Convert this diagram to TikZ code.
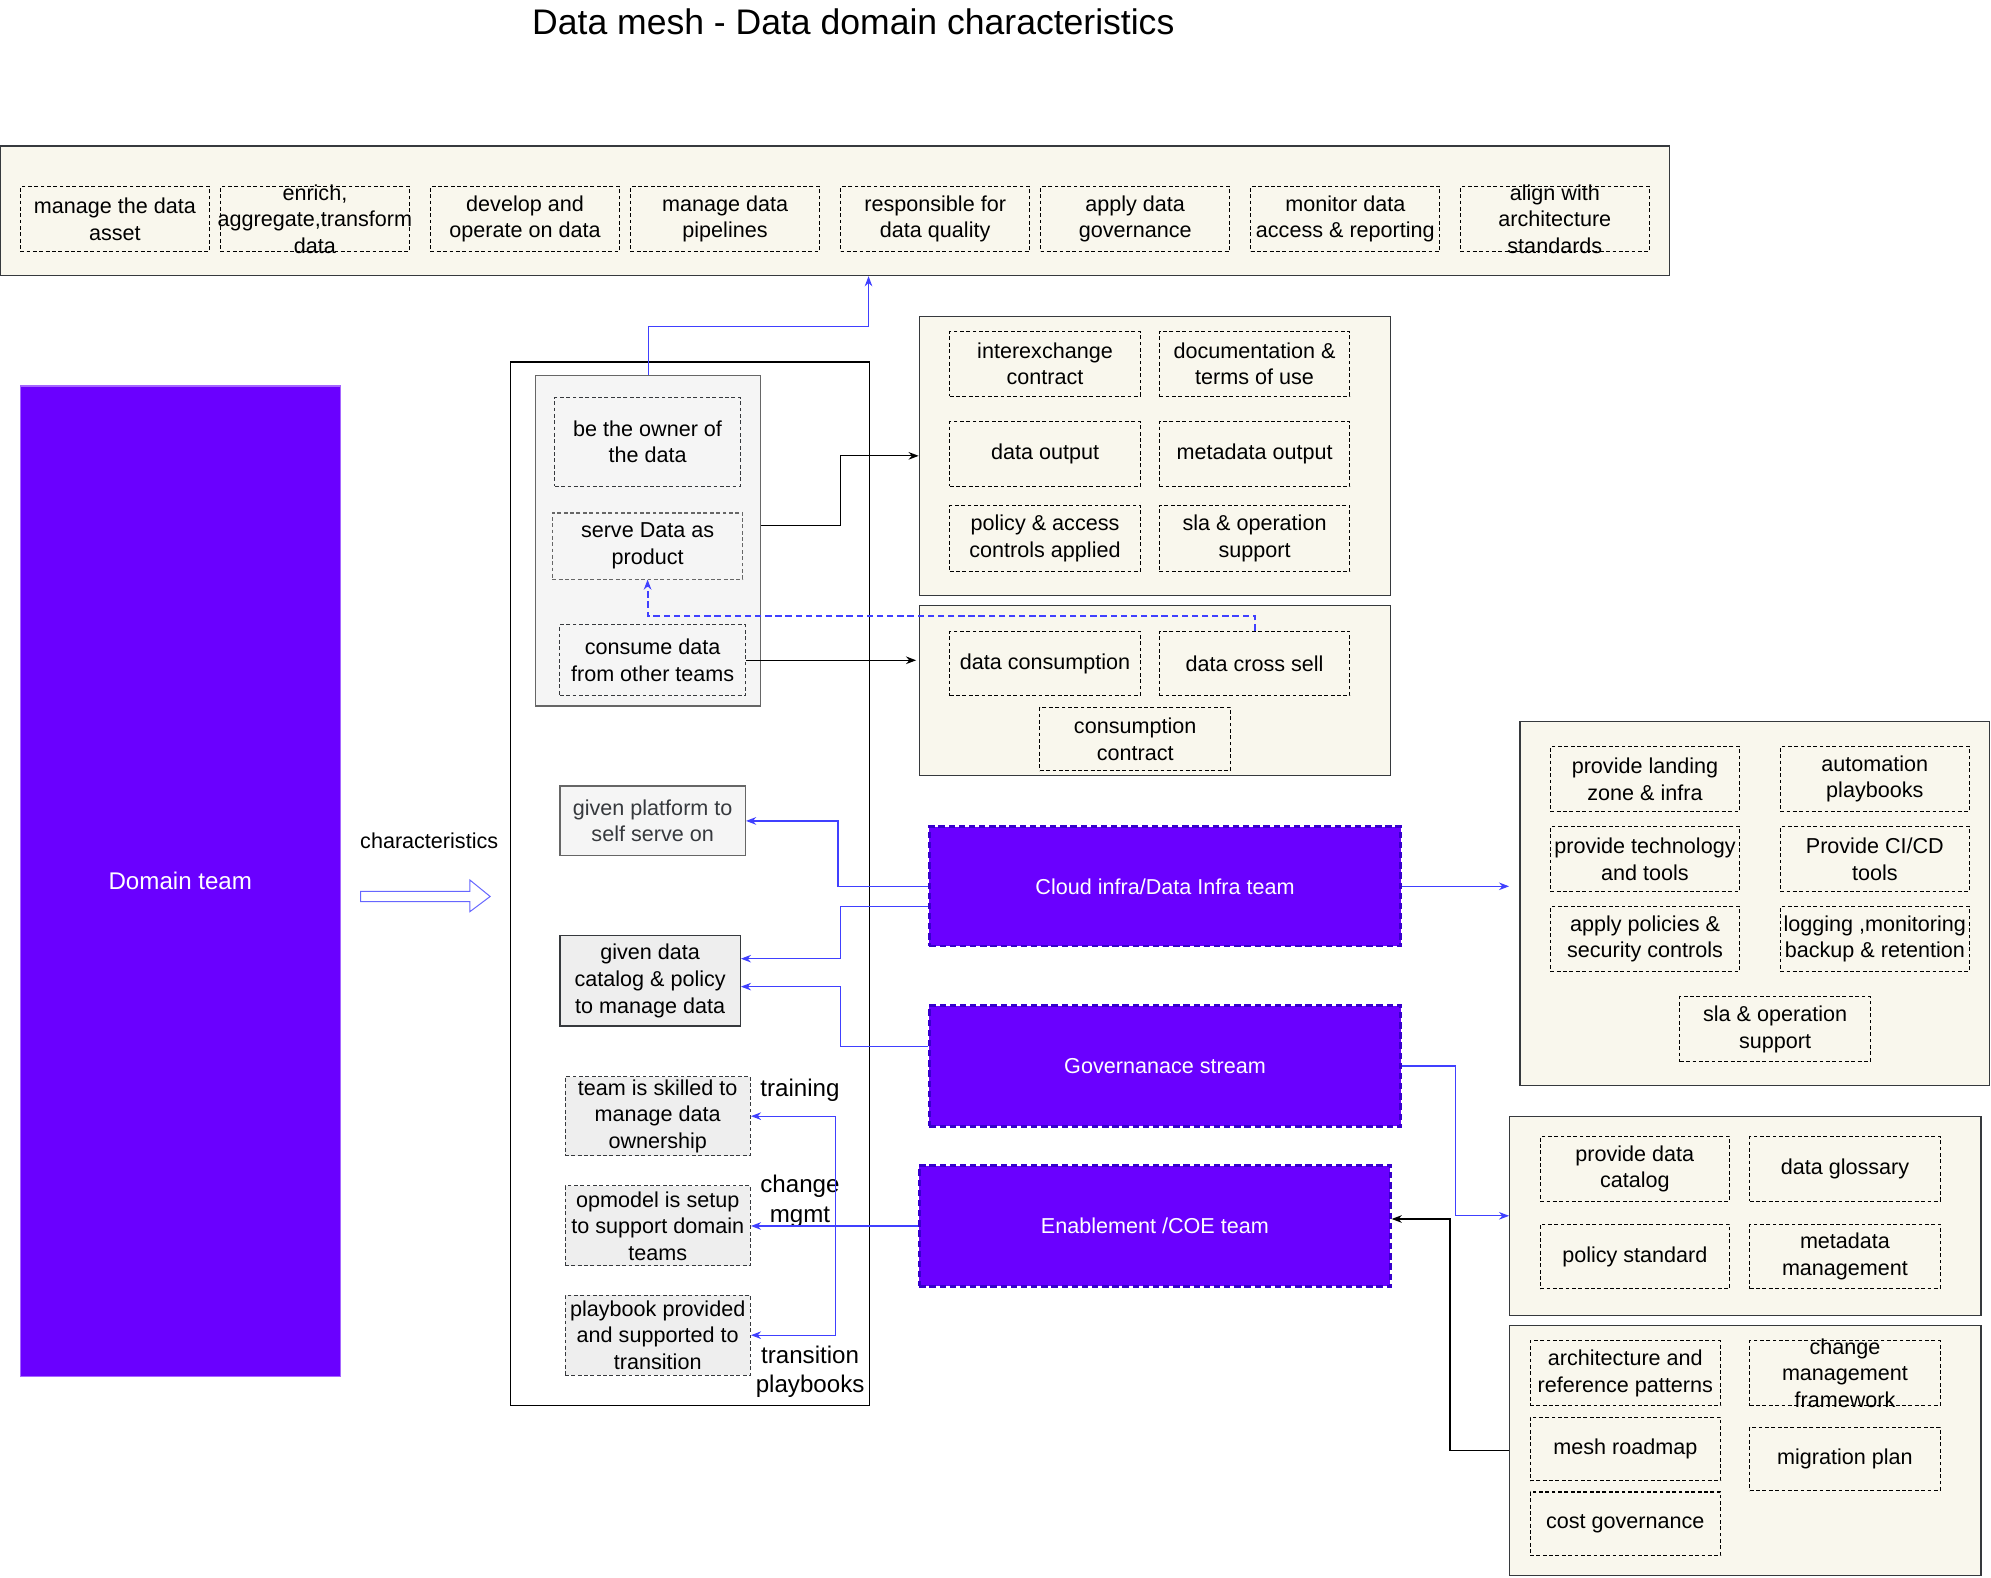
\documentclass[tikz,border=0pt]{standalone}
\usepackage{fontspec}
\setmainfont{Liberation Sans}
\usetikzlibrary{arrows.meta}

\definecolor{cream}{HTML}{F9F7ED}
\definecolor{dkgray}{HTML}{36393D}
\definecolor{ltgray}{HTML}{F5F5F5}
\definecolor{midgray}{HTML}{666666}
\definecolor{boxgray}{HTML}{EEEEEE}
\definecolor{violet}{HTML}{6A00FF}
\definecolor{violetline}{HTML}{3700CC}
\definecolor{lineblue}{HTML}{4040FF}

\tikzset{
  grp/.style={draw=dkgray, fill=cream, line width=1pt, inner sep=0pt},
  dbox/.style={draw=black, fill=cream, dash pattern=on 3pt off 2pt, line width=0.8pt,
    minimum width=149, minimum height=51, align=center, inner sep=1pt},
  gdbox/.style={dbox, draw=midgray, fill=ltgray},
  sbox/.style={draw=midgray, fill=ltgray, line width=1pt, align=center, inner sep=1pt},
  kbox/.style={dbox, draw=dkgray, fill=boxgray},
  team/.style={draw=violetline, fill=violet, text=white, line width=2pt,
    dash pattern=on 5pt off 3pt, minimum width=371, align=center},
  bluearr/.style={draw=lineblue, line width=1pt, -{Stealth[length=8pt,width=6pt]}},
  bluedash/.style={bluearr, line width=1.5pt, dash pattern=on 5pt off 3pt},
  blkarr/.style={draw=black, line width=1pt, -{Stealth[length=8pt,width=6pt]}},
  lbl/.style={align=center, inner sep=0pt},
  biglbl/.style={lbl, font=\fontsize{19}{23}\selectfont}
}

\begin{document}
\begin{tikzpicture}[x=1pt, y=-1pt, font=\fontsize{17}{21}\selectfont]
    \useasboundingbox (0,0) rectangle (1568,1242);

    \node[font=\fontsize{28}{34}\selectfont] (title) at (672,17) {Data mesh - Data domain characteristics};

    % top row of responsibilities
    \node[grp, minimum width=1314, minimum height=102] (grpTop) at (657.5,166) {};
    \node[dbox] (asset) at (90.5,172.5) {manage the data\\asset};
    \node[dbox] (enrich) at (248,172.5) {};
    \node[lbl] at (enrich) {enrich,\\aggregate,transform\\data};
    \node[dbox] (develop) at (413.5,172.5) {develop and\\operate on data};
    \node[dbox] (pipes) at (571,172.5) {manage data\\pipelines};
    \node[dbox] (quality) at (736.5,172.5) {responsible for\\data quality};
    \node[dbox] (govern) at (894,172.5) {apply data\\governance};
    \node[dbox] (monitor) at (1059.5,172.5) {monitor data\\access \& reporting};
    \node[dbox] (align) at (1224.5,172.5) {};
    \node[lbl] at (align) {align with\\architecture\\standards};

    \node[draw=violet!60, fill=violet, text=white, line width=1pt, minimum width=252, minimum height=780,
      font=\fontsize{19}{23}\selectfont] (domain) at (142,694) {Domain team};
    \node (charTxt) at (338,662) {characteristics};
    \draw[draw=lineblue!80, line width=0.8pt] (284,702) -- (370,702) -- (370,693) -- (386,706) -- (370,718) -- (370,710) -- (284,710) -- cycle;

    % characteristics of the domain
    \node[draw=black, line width=1pt, minimum width=283, minimum height=822] (charBox) at (543.5,696) {};
    \node[sbox, minimum width=177, minimum height=260] (inner) at (510.5,426) {};
    \node[gdbox, draw=dkgray, minimum width=146, minimum height=70] (owner) at (510,348) {be the owner of\\the data};
    \node[gdbox, minimum width=150, minimum height=52] (serve) at (510,430) {serve Data as\\product};
    \node[gdbox, draw=dkgray, minimum width=146, minimum height=56] (consume) at (514,520) {consume data\\from other teams};

    \node[sbox, text=dkgray, minimum width=146, minimum height=55] (platform) at (514,646.5) {given platform to\\self serve on};
    \node[sbox, draw=dkgray, fill=boxgray, minimum width=142, minimum height=71] (catalog) at (512,772.5) {given data\\catalog \& policy\\to manage data};
    \node[kbox, minimum width=146, minimum height=62] (skilled) at (518,879) {team is skilled to\\manage data\\ownership};
    \node[kbox, minimum width=146, minimum height=63] (opmodel) at (518,965.5) {opmodel is setup\\to support domain\\teams};
    \node[kbox, minimum width=146, minimum height=63] (playbook) at (518,1051.5) {playbook provided\\and supported to\\transition};
    \node[biglbl] (training) at (630,859) {training};
    \node[biglbl] (changeTxt) at (630,946) {change\\mgmt};
    \node[biglbl] (transTxt) at (638,1080) {transition\\playbooks};

    % data product output and consumption
    \node[grp, minimum width=371, minimum height=220] (grpOut) at (909.5,359) {};
    \node[dbox, minimum width=150] (inter) at (823,286.5) {interexchange\\contract};
    \node[dbox, minimum width=150] (docs) at (988,286.5) {documentation \&\\terms of use};
    \node[dbox, minimum width=150] (dout) at (823,357.5) {data output};
    \node[dbox, minimum width=150] (mout) at (988,357.5) {metadata output};
    \node[dbox, minimum width=150, minimum height=52] (policy) at (823,424) {policy \& access\\controls applied};
    \node[dbox, minimum width=150, minimum height=52] (slaOut) at (988,424) {sla \& operation\\support};

    \node[grp, minimum width=371, minimum height=134] (grpCons) at (909.5,544) {};
    \node[dbox, minimum width=150] (dcons) at (823,522.5) {data consumption};
    \node[dbox, minimum width=150] (xsell) at (988,522.5) {data cross sell};
    \node[dbox, minimum width=150, minimum height=50] (ccontract) at (894,582) {consumption\\contract};

    % supporting teams
    \node[team, minimum height=94] (cloud) at (917.5,698) {Cloud infra/Data Infra team};
    \node[team, minimum height=95] (gov) at (917.5,839.5) {Governanace stream};
    \node[team, minimum height=95] (enable) at (909.5,965.5) {Enablement /COE team};

    \node[grp, minimum width=370, minimum height=287] (grpPlat) at (1382,711.5) {};
    \node[dbox] (landing) at (1295.5,613.5) {provide landing\\zone \& infra};
    \node[dbox] (autom) at (1476.5,613.5) {automation\\playbooks};
    \node[dbox] (tech) at (1295.5,676.5) {provide technology\\and tools};
    \node[dbox] (cicd) at (1476.5,676.5) {Provide CI/CD\\tools};
    \node[dbox] (secur) at (1295.5,739.5) {apply policies \&\\security controls};
    \node[dbox] (logging) at (1476.5,739.5) {logging ,monitoring\\backup \& retention};
    \node[dbox, minimum width=150] (slaPlat) at (1398,810.5) {sla \& operation\\support};

    \node[grp, minimum width=371, minimum height=157] (grpGov) at (1374.5,957.5) {};
    \node[dbox] (pcat) at (1287.5,920.5) {provide data\\catalog};
    \node[dbox, minimum width=150] (gloss) at (1453,920.5) {data glossary};
    \node[dbox] (pstd) at (1287.5,989.5) {policy standard};
    \node[dbox, minimum width=150] (meta) at (1453,989.5) {metadata\\management};

    \node[grp, minimum width=371, minimum height=197] (grpCoe) at (1374.5,1142.5) {};
    \node[dbox, minimum width=150] (arch) at (1280,1081.5) {architecture and\\reference patterns};
    \node[dbox, minimum width=150] (cmf) at (1453,1081.5) {};
    \node[lbl] at (cmf) {change\\management\\framework};
    \node[dbox, minimum width=150, minimum height=50] (roadmap) at (1280,1141) {mesh roadmap};
    \node[dbox, minimum width=150, minimum height=50] (migr) at (1453,1149) {migration plan};
    \node[dbox, minimum width=150, minimum height=50] (cost) at (1280,1200) {cost governance};

    % connectors
    \coordinate (topTurn) at (684,257);
    \draw[bluearr] (inner.north) |- (topTurn) -- (topTurn |- grpTop.south);
    \draw[blkarr] (inner.east |- 0,414) -- (662,414) |- (grpOut.west);
    \draw[blkarr, shorten >=2pt] (consume.east) -- (grpCons.west |- consume.east);
    \draw[bluedash] (xsell.north) -- (xsell.north |- 0,485) -| (serve.south);

    \draw[bluearr] (cloud.west) -- (660,698) |- (platform.east);
    \draw[bluearr] (cloud.west |- 0,714) -- (662,714) |- (catalog.east |- 0,755);
    \draw[bluearr] (gov.west |- 0,824) -- (662,824) |- (catalog.east |- 0,777);
    \coordinate (split) at (658,965.5);
    \draw[bluearr] (enable.west) -- (opmodel.east);
    \draw[bluearr] (split) |- (skilled.east);
    \draw[bluearr] (split) |- (playbook.east);

    \draw[bluearr, shorten >=8pt] (cloud.east) -- (grpPlat.west |- cloud.east);
    \draw[bluearr] (gov.east) -- (1146,839.5) |- (grpGov.west);
    \draw[blkarr] (grpCoe.west) -- (1142,1142.5) |- (enable.east |- 0,960);
\end{tikzpicture}
\end{document}
